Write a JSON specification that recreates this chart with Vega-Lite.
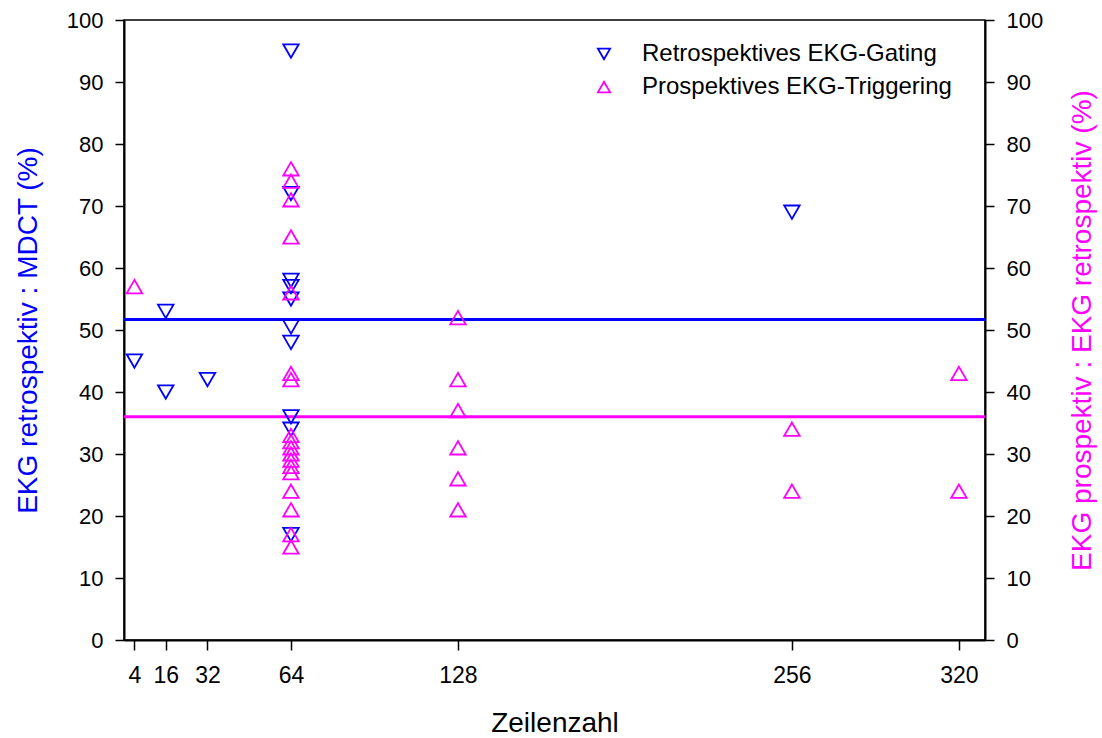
{
  "$schema": "https://vega.github.io/schema/vega-lite/v6.json",
  "width": 861,
  "height": 620,
  "autosize": {"type": "none"},
  "padding": {"left": 124, "top": 20, "right": 117, "bottom": 98},
  "background": "white",
  "config": {
    "font": "Liberation Sans",
    "view": {"stroke": "black", "strokeWidth": 1.5},
    "axis": {
      "grid": false,
      "domainColor": "black",
      "domainWidth": 2,
      "tickColor": "black",
      "tickWidth": 1.5,
      "tickSize": 9,
      "labelFontSize": 22,
      "labelColor": "black",
      "labelPadding": 12,
      "titleFontSize": 28,
      "titleFontWeight": "normal",
      "labelFont": "Liberation Sans",
      "titleFont": "Liberation Sans"
    },
    "legend": {
      "title": null,
      "orient": "none",
      "legendX": 468,
      "legendY": 22,
      "padding": 0,
      "labelFontSize": 24,
      "labelColor": "black",
      "labelLimit": 0,
      "symbolSize": 150,
      "symbolStrokeWidth": 1.8,
      "labelOffset": 26,
      "rowPadding": 9
    }
  },
  "data": {
    "values": [
      {"zeilen": 4, "wert": 45, "gruppe": "Retrospektives EKG-Gating", "typ": "Messwert"},
      {"zeilen": 16, "wert": 53, "gruppe": "Retrospektives EKG-Gating", "typ": "Messwert"},
      {"zeilen": 16, "wert": 40, "gruppe": "Retrospektives EKG-Gating", "typ": "Messwert"},
      {"zeilen": 32, "wert": 42, "gruppe": "Retrospektives EKG-Gating", "typ": "Messwert"},
      {"zeilen": 64, "wert": 95, "gruppe": "Retrospektives EKG-Gating", "typ": "Messwert"},
      {"zeilen": 64, "wert": 72, "gruppe": "Retrospektives EKG-Gating", "typ": "Messwert"},
      {"zeilen": 64, "wert": 58, "gruppe": "Retrospektives EKG-Gating", "typ": "Messwert"},
      {"zeilen": 64, "wert": 57, "gruppe": "Retrospektives EKG-Gating", "typ": "Messwert"},
      {"zeilen": 64, "wert": 55, "gruppe": "Retrospektives EKG-Gating", "typ": "Messwert"},
      {"zeilen": 64, "wert": 50.5, "gruppe": "Retrospektives EKG-Gating", "typ": "Messwert"},
      {"zeilen": 64, "wert": 48, "gruppe": "Retrospektives EKG-Gating", "typ": "Messwert"},
      {"zeilen": 64, "wert": 36, "gruppe": "Retrospektives EKG-Gating", "typ": "Messwert"},
      {"zeilen": 64, "wert": 34, "gruppe": "Retrospektives EKG-Gating", "typ": "Messwert"},
      {"zeilen": 64, "wert": 17, "gruppe": "Retrospektives EKG-Gating", "typ": "Messwert"},
      {"zeilen": 256, "wert": 69, "gruppe": "Retrospektives EKG-Gating", "typ": "Messwert"},
      {"zeilen": 4, "wert": 57, "gruppe": "Prospektives EKG-Triggering", "typ": "Messwert"},
      {"zeilen": 64, "wert": 76, "gruppe": "Prospektives EKG-Triggering", "typ": "Messwert"},
      {"zeilen": 64, "wert": 74, "gruppe": "Prospektives EKG-Triggering", "typ": "Messwert"},
      {"zeilen": 64, "wert": 71, "gruppe": "Prospektives EKG-Triggering", "typ": "Messwert"},
      {"zeilen": 64, "wert": 65, "gruppe": "Prospektives EKG-Triggering", "typ": "Messwert"},
      {"zeilen": 64, "wert": 56, "gruppe": "Prospektives EKG-Triggering", "typ": "Messwert"},
      {"zeilen": 64, "wert": 43, "gruppe": "Prospektives EKG-Triggering", "typ": "Messwert"},
      {"zeilen": 64, "wert": 42, "gruppe": "Prospektives EKG-Triggering", "typ": "Messwert"},
      {"zeilen": 64, "wert": 33, "gruppe": "Prospektives EKG-Triggering", "typ": "Messwert"},
      {"zeilen": 64, "wert": 32, "gruppe": "Prospektives EKG-Triggering", "typ": "Messwert"},
      {"zeilen": 64, "wert": 31, "gruppe": "Prospektives EKG-Triggering", "typ": "Messwert"},
      {"zeilen": 64, "wert": 30, "gruppe": "Prospektives EKG-Triggering", "typ": "Messwert"},
      {"zeilen": 64, "wert": 29, "gruppe": "Prospektives EKG-Triggering", "typ": "Messwert"},
      {"zeilen": 64, "wert": 28, "gruppe": "Prospektives EKG-Triggering", "typ": "Messwert"},
      {"zeilen": 64, "wert": 27, "gruppe": "Prospektives EKG-Triggering", "typ": "Messwert"},
      {"zeilen": 64, "wert": 24, "gruppe": "Prospektives EKG-Triggering", "typ": "Messwert"},
      {"zeilen": 64, "wert": 21, "gruppe": "Prospektives EKG-Triggering", "typ": "Messwert"},
      {"zeilen": 64, "wert": 17, "gruppe": "Prospektives EKG-Triggering", "typ": "Messwert"},
      {"zeilen": 64, "wert": 15, "gruppe": "Prospektives EKG-Triggering", "typ": "Messwert"},
      {"zeilen": 128, "wert": 52, "gruppe": "Prospektives EKG-Triggering", "typ": "Messwert"},
      {"zeilen": 128, "wert": 42, "gruppe": "Prospektives EKG-Triggering", "typ": "Messwert"},
      {"zeilen": 128, "wert": 37, "gruppe": "Prospektives EKG-Triggering", "typ": "Messwert"},
      {"zeilen": 128, "wert": 31, "gruppe": "Prospektives EKG-Triggering", "typ": "Messwert"},
      {"zeilen": 128, "wert": 26, "gruppe": "Prospektives EKG-Triggering", "typ": "Messwert"},
      {"zeilen": 128, "wert": 21, "gruppe": "Prospektives EKG-Triggering", "typ": "Messwert"},
      {"zeilen": 256, "wert": 34, "gruppe": "Prospektives EKG-Triggering", "typ": "Messwert"},
      {"zeilen": 256, "wert": 24, "gruppe": "Prospektives EKG-Triggering", "typ": "Messwert"},
      {"zeilen": 320, "wert": 43, "gruppe": "Prospektives EKG-Triggering", "typ": "Messwert"},
      {"zeilen": 320, "wert": 24, "gruppe": "Prospektives EKG-Triggering", "typ": "Messwert"},
      {"zeilen": null, "wert": 51.7, "gruppe": "Retrospektives EKG-Gating", "typ": "Mittelwert"},
      {"zeilen": null, "wert": 36.0, "gruppe": "Prospektives EKG-Triggering", "typ": "Mittelwert"}
    ]
  },
  "layer": [
    {
      "encoding": {
        "y": {
          "field": "wert",
          "type": "quantitative",
          "scale": {"domain": [0, 100], "nice": false, "zero": false},
          "axis": {
            "orient": "left",
            "values": [0, 10, 20, 30, 40, 50, 60, 70, 80, 90, 100],
            "title": "EKG retrospektiv : MDCT (%)",
            "titleColor": "#0000FF",
            "titlePadding": 24
          }
        }
      },
      "layer": [
        {
          "transform": [{"filter": "datum.typ === 'Mittelwert' && datum.gruppe === 'Retrospektives EKG-Gating'"}],
          "mark": {"type": "rule", "strokeWidth": 3, "color": "#0000FF"},
          "encoding": {}
        },
        {
          "transform": [{"filter": "datum.typ === 'Mittelwert' && datum.gruppe === 'Prospektives EKG-Triggering'"}],
          "mark": {"type": "rule", "strokeWidth": 3, "color": "#FF00FF"},
          "encoding": {}
        },
        {
          "transform": [{"filter": "datum.typ === 'Messwert' && datum.gruppe === 'Retrospektives EKG-Gating'"}],
          "mark": {"type": "point", "filled": false, "size": 240, "strokeWidth": 1.8, "opacity": 1},
          "encoding": {
            "x": {
              "field": "zeilen",
              "type": "quantitative",
              "scale": {"domain": [0, 330], "nice": false, "zero": false},
              "axis": {
                "values": [4, 16, 32, 64, 128, 256, 320],
                "title": "Zeilenzahl",
                "titleColor": "black",
                "tickSize": 10,
                "labelFontSize": 23,
                "labelPadding": 14,
                "titlePadding": 22,
                "labelFlush": false
              }
            },
            "color": {
              "field": "gruppe",
              "type": "nominal",
              "scale": {"domain": ["Retrospektives EKG-Gating", "Prospektives EKG-Triggering"], "range": ["#0000FF", "#FF00FF"]}
            },
            "shape": {
              "field": "gruppe",
              "type": "nominal",
              "scale": {"domain": ["Retrospektives EKG-Gating", "Prospektives EKG-Triggering"], "range": ["triangle-down", "triangle-up"]}
            }
          }
        }
      ]
    },
    {
      "transform": [{"filter": "datum.typ === 'Messwert' && datum.gruppe === 'Prospektives EKG-Triggering'"}],
      "mark": {"type": "point", "filled": false, "size": 240, "strokeWidth": 1.8, "opacity": 1},
      "encoding": {
        "x": {"field": "zeilen", "type": "quantitative"},
        "y": {
          "field": "wert",
          "type": "quantitative",
          "scale": {"domain": [0, 100], "nice": false, "zero": false},
          "axis": {
            "orient": "right",
            "values": [0, 10, 20, 30, 40, 50, 60, 70, 80, 90, 100],
            "title": "EKG prospektiv : EKG retrospektiv (%)",
            "titleColor": "#FF00FF",
            "titleAngle": 270,
            "titleBaseline": "top",
            "titlePadding": 26
          }
        },
        "color": {"field": "gruppe", "type": "nominal"},
        "shape": {"field": "gruppe", "type": "nominal"}
      }
    }
  ],
  "resolve": {"scale": {"y": "independent"}, "axis": {"y": "independent"}}
}
